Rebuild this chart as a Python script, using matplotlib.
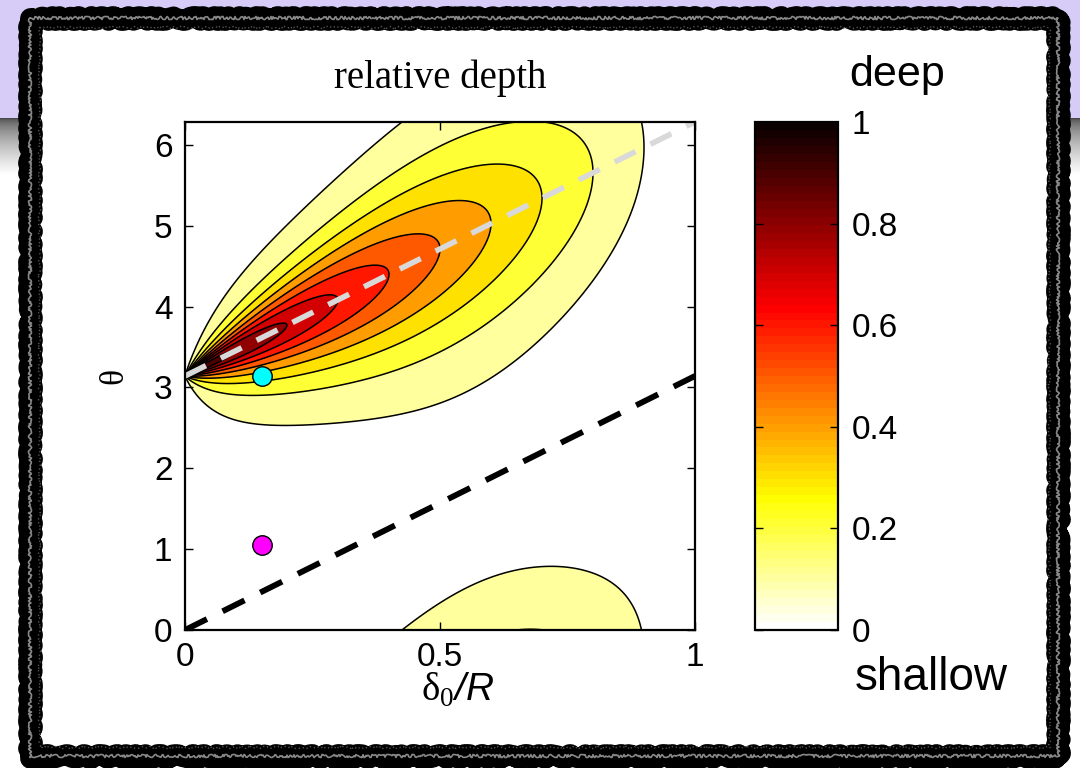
import numpy as np
import matplotlib
matplotlib.use("Agg")
import matplotlib.pyplot as plt
from matplotlib.colors import ListedColormap, Normalize
from matplotlib.cm import ScalarMappable
from matplotlib.patches import Rectangle

# ---- chart content -------------------------------------------------------
title_text = "relative depth"
x_ticks = [0, 0.5, 1]
x_tick_labels = ["0", "0.5", "1"]
y_ticks = [0, 1, 2, 3, 4, 5, 6]
cbar_ticks = [0, 0.2, 0.4, 0.6, 0.8, 1]
cbar_tick_labels = ["0", "0.2", "0.4", "0.6", "0.8", "1"]
contour_levels = [0.1, 0.2, 0.3, 0.4, 0.5, 0.6, 0.7, 0.8, 0.9, 1.0]

# guide lines (delta0/R, theta)
ridge_x = [0.0, 1.0]
ridge_theta = [np.pi, 2 * np.pi]
node_x = [0.0, 1.0]
node_theta = [0.0, np.pi]

# highlighted operating points
point_x = [0.15, 0.15]
point_theta = [np.pi, np.pi / 3]
point_colors = ["#00FFFF", "#FF00FF"]

# depth model: peak 1 - d along the ridge, Student-t fall-off in detuning
ridge_offset = np.pi
ridge_slope = np.pi
width_max = 2.3
width_scale = 0.598
width_power = 1.9
shape_coeff = 0.6
shape_rate = 4.3

# ---- figure ----------------------------------------------------------------
W, H = 1080, 768
fig = plt.figure(figsize=(W / 100, H / 100), dpi=100)
fig.patch.set_facecolor("white")

sans = ["Liberation Sans", "DejaVu Sans"]
serif = ["Liberation Serif", "DejaVu Serif"]
plt.rcParams["mathtext.fontset"] = "custom"
plt.rcParams["mathtext.rm"] = "Liberation Serif"
plt.rcParams["mathtext.sf"] = "Liberation Sans:italic"

# slide background: lavender header, soft shadow, rough black frame
bg = fig.add_axes([0, 0, 1, 1], zorder=0)
bg.axis("off")
bg.add_patch(Rectangle((0, 0), W, 118, facecolor="#D7CCF8", edgecolor="none"))
shade = np.linspace(0, 1, 60) ** 0.6
shade = 0.28 + 0.72 * shade
bg.imshow(shade[:, None] * np.ones((1, 4)), cmap="gray", vmin=0, vmax=1,
          extent=[0, W, 175, 118], aspect="auto", interpolation="bilinear")
bg.set_xlim(0, W)
bg.set_ylim(H, 0)
frame_layers = [(15, (2.0, 18, 6), "black"), (7, (3.0, 8, 10), "black"),
                (1.2, (1.5, 4, 12), "#888888")]
base = Rectangle((30, 18), 1028, 738, facecolor="white", edgecolor="none")
bg.add_patch(base)
for lw, sk, col in frame_layers:
    frame = Rectangle((30, 18), 1028, 738, facecolor="none", edgecolor=col,
                      linewidth=lw, joinstyle="round", capstyle="round")
    frame.set_sketch_params(*sk)
    bg.add_patch(frame)
inner = Rectangle((39, 27), 1010, 720, facecolor="none", edgecolor="#555555",
                  linewidth=1.0, linestyle=(0, (1, 2)))
inner.set_sketch_params(1.0, 5, 10)
bg.add_patch(inner)

# ---- contour panel ---------------------------------------------------------
ax = fig.add_axes([185 / W, 1 - 630 / H, 510 / W, 508 / H], zorder=2)
ax.set_facecolor("white")

d = np.linspace(0, 1, 700)
th = np.linspace(0, 2 * np.pi, 900)
D, TH = np.meshgrid(d, th)
Dc = np.clip(D, 1e-6, None)
dev = TH - ridge_offset - ridge_slope * D
detune = 4 * np.sin(dev / 2) ** 2
width = width_max * np.tanh((Dc / width_scale) ** width_power)
shape = shape_coeff * np.exp(shape_rate * Dc)
depth = (1 - D) * (1 + detune / (shape * width)) ** (-shape)

hot_r = plt.get_cmap("hot_r")
fill_colors = [hot_r(l) for l in contour_levels[:-1]]
ax.contourf(D, TH, depth, levels=contour_levels, colors=fill_colors, zorder=1)
ax.contour(D, TH, depth, levels=contour_levels[:-1], colors="black",
           linewidths=1.1, zorder=2)

ax.plot(ridge_x, ridge_theta, color="#D9D9D9", lw=4.0, dashes=(4.2, 3.0),
        zorder=3, solid_capstyle="butt")
ax.plot(node_x, node_theta, color="black", lw=4.2, dashes=(4.2, 3.0),
        zorder=3, solid_capstyle="butt")
for px, pt, pc in zip(point_x, point_theta, point_colors):
    ax.plot(px, pt, "o", ms=14, mfc=pc, mec="black", mew=1.0, zorder=5,
            clip_on=False)

ax.set_xlim(0, 1)
ax.set_ylim(0, 2 * np.pi)
ax.set_xticks(x_ticks)
ax.set_xticklabels(x_tick_labels)
ax.set_yticks(y_ticks)
ax.tick_params(direction="in", length=6, width=1.0, top=True, right=True,
               labelsize=24, pad=9)
for lab in ax.get_xticklabels() + ax.get_yticklabels():
    lab.set_fontfamily(sans)
for sp in ax.spines.values():
    sp.set_linewidth(1.6)
    sp.set_zorder(6)

ax.set_xlabel(r"$\mathrm{\delta}_{\mathrm{0}}\mathsf{/R}$", fontsize=28)
ax.xaxis.set_label_coords(0.535, -0.08)
ax.set_ylabel("θ", fontsize=24, family=serif, labelpad=18)

fig.text(440 / W, 1 - 78 / H, title_text, ha="center", va="center",
         fontsize=28, family=serif, zorder=3)

# ---- colour bar --------------------------------------------------------------
cax = fig.add_axes([755 / W, 1 - 630 / H, 83 / W, 508 / H], zorder=2)
cmap64 = ListedColormap(hot_r(np.linspace(0, 1, 64)))
cb = fig.colorbar(ScalarMappable(norm=Normalize(0, 1), cmap=cmap64), cax=cax)
cb.set_ticks(cbar_ticks)
cb.set_ticklabels(cbar_tick_labels)
cax.tick_params(direction="in", length=6, width=1.0, left=True, right=True,
                labelsize=24, pad=10)
for lab in cax.get_yticklabels():
    lab.set_fontfamily(sans)
cb.outline.set_linewidth(1.6)

fig.text(897 / W, 1 - 75 / H, "deep", ha="center", va="center",
         fontsize=31, family=sans, zorder=3)
fig.text(931 / W, 1 - 678 / H, "shallow", ha="center", va="center",
         fontsize=33, family=sans, zorder=3)

fig.savefig("out.png", dpi=100)
